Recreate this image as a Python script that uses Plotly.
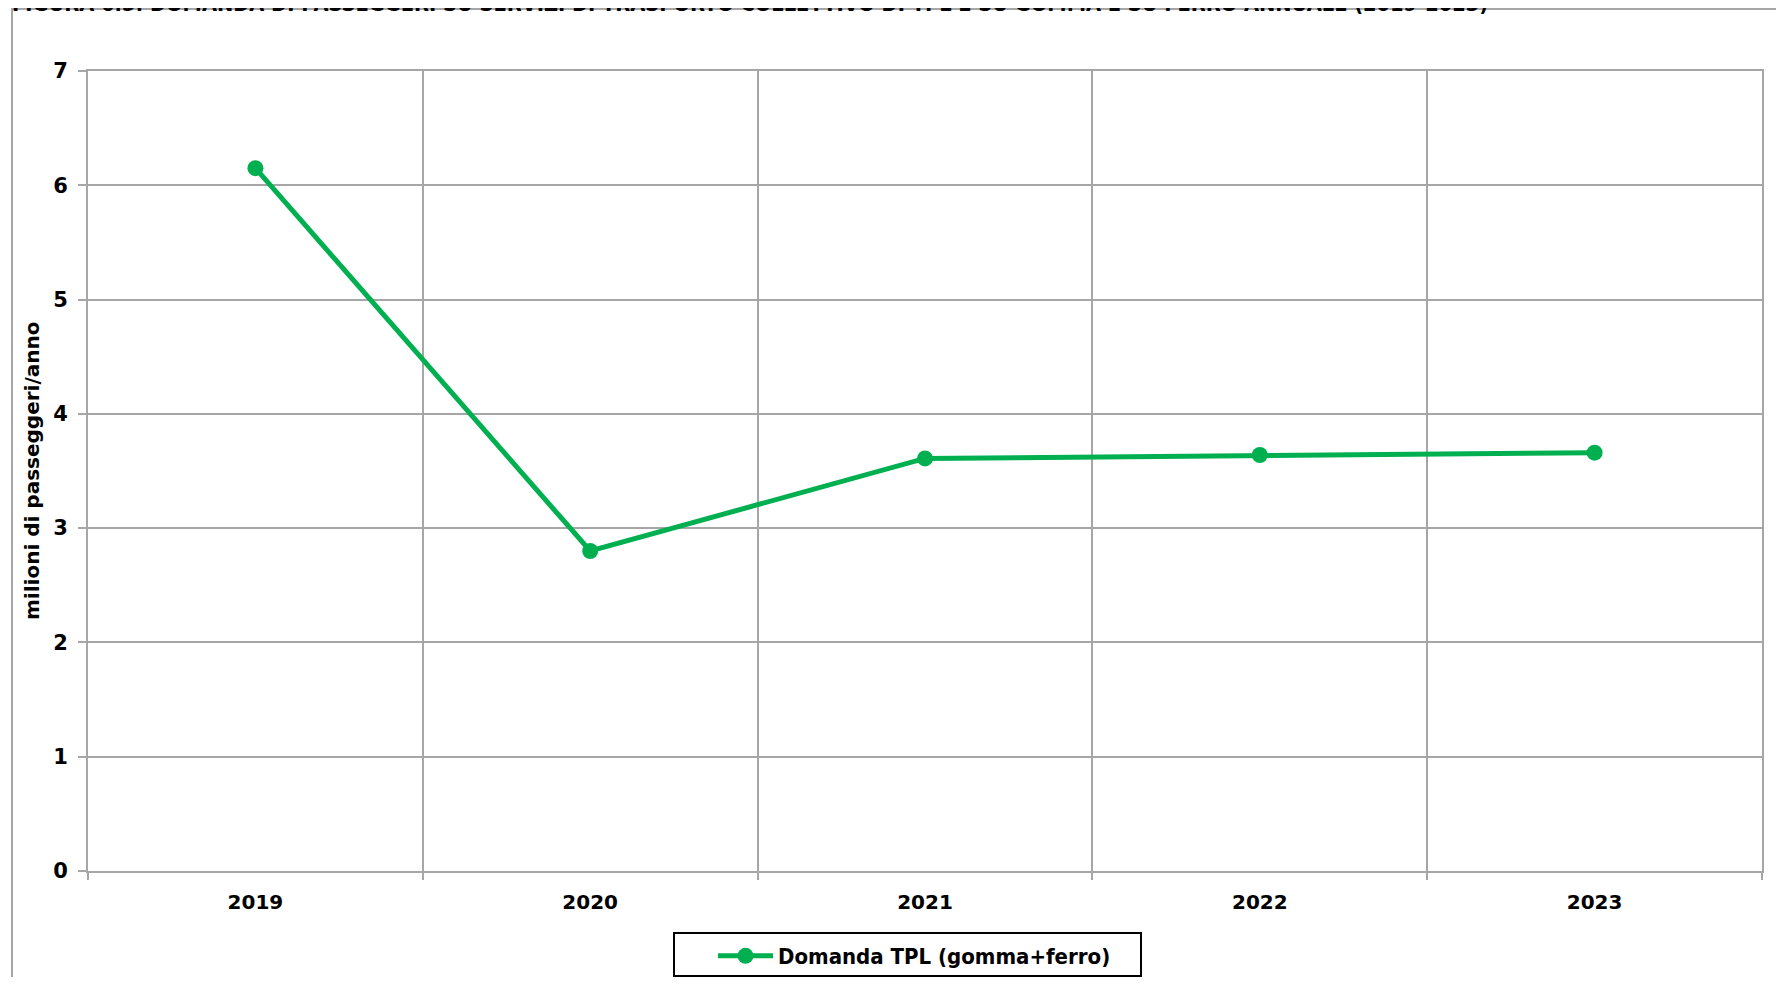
import plotly.graph_objects as go

years = ["2019", "2020", "2021", "2022", "2023"]
domanda = [6.15, 2.80, 3.61, 3.64, 3.66]
series_name = "Domanda TPL (gomma+ferro)"
title_text = "FIGURA 6.5: DOMANDA DI PASSEGGERI SU SERVIZI DI TRASPORTO COLLETTIVO DI TPL E SU GOMMA E SU FERRO ANNUALE (2019-2023)"
y_title = "milioni di passeggeri/anno"

OFF = 8  # default page body margin
W, H = 1768, 969
L, R, T, B = 80, 14, 63, 106
pw = W - L - R
ph = H - T - B

def px_x(p):
    return (p - OFF - L) / pw

def px_y(p):
    return (H - B - (p - OFF)) / ph

def cont_y(p):
    return (H - (p - OFF)) / H

GREEN = "#00b050"
GRID = "#a6a6a6"
COND = "DejaVu Sans Condensed"

fig = go.Figure()
fig.add_trace(go.Scatter(
    x=list(range(len(years))), y=domanda, mode="lines+markers", name=series_name,
    line=dict(color=GREEN, width=5),
    marker=dict(color=GREEN, size=16),
))

fig.update_layout(
    width=W, height=H,
    margin=dict(l=L, r=R, t=T, b=B, autoexpand=False),
    paper_bgcolor="white", plot_bgcolor="white",
    showlegend=True,
    legend=dict(
        x=px_x(713), xref="paper", y=cont_y(935), yref="container",
        xanchor="left", yanchor="top",
        borderwidth=0, bgcolor="rgba(0,0,0,0)",
        font=dict(family=COND, size=22, color="black", weight="bold"),
        itemwidth=55,
    ),
    xaxis=dict(
        range=[-0.5, len(years) - 0.5], automargin=False,
        tickmode="array", tickvals=list(range(len(years))), ticktext=years,
        ticks="", showgrid=False, zeroline=False,
        tickfont=dict(family="DejaVu Sans", size=20, color="black", weight="bold"),
        ticklabelstandoff=12,
        showline=True, linecolor=GRID, linewidth=2, mirror=True,
        minor=dict(tickmode="linear", tick0=-0.5, dtick=1, ticks="outside", ticklen=7,
                   tickcolor=GRID, tickwidth=1.5, showgrid=True, gridcolor=GRID, gridwidth=1.5),
    ),
    yaxis=dict(
        range=[0, 7], dtick=1, tick0=0, automargin=False,
        ticks="outside", ticklen=8, tickcolor=GRID, tickwidth=1.5,
        showgrid=True, gridcolor=GRID, gridwidth=1.5, zeroline=False,
        tickfont=dict(family="DejaVu Sans", size=21, color="black", weight="bold"),
        ticklabelstandoff=6,
        showline=True, linecolor=GRID, linewidth=2, mirror=True,
    ),
    annotations=[
        dict(text=y_title, textangle=-90, xref="paper", yref="paper",
             x=px_x(32), y=0.5, xanchor="center", yanchor="middle", showarrow=False,
             font=dict(family="DejaVu Sans", size=20, color="black", weight="bold")),
        dict(text=title_text, xref="paper", yref="paper",
             x=px_x(10), y=px_y(18), xanchor="left", yanchor="bottom", showarrow=False,
             font=dict(family=COND, size=21.6, color="black", weight="bold")),
    ],
    shapes=[
        dict(type="rect", xref="paper", yref="paper",
             x0=px_x(12), x1=px_x(1800), y0=px_y(1000), y1=px_y(9),
             line=dict(color=GRID, width=2), fillcolor="rgba(0,0,0,0)", layer="below"),
        dict(type="rect", xref="paper", yref="paper",
             x0=px_x(674), x1=px_x(1141), y0=px_y(976), y1=px_y(933),
             line=dict(color="black", width=2), fillcolor="white", layer="below"),
    ],
)

fig.write_html("out.html")
